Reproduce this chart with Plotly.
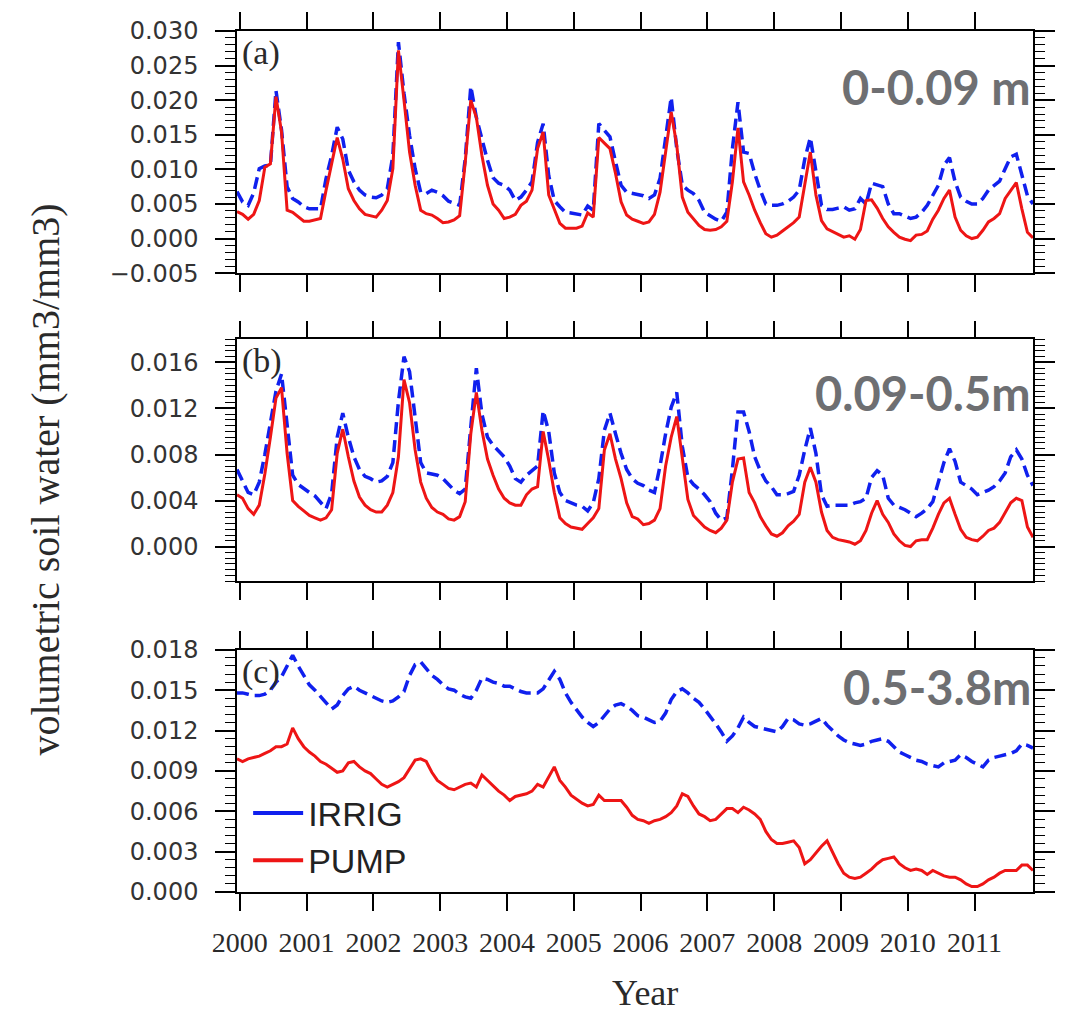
import numpy as np
import plotly.graph_objects as go

# ---------------- data ----------------
years = list(range(2000, 2012))
year_labels = [str(y) for y in years]
n_months = 144
months = np.arange(n_months)
time = 2000 + (months - 0.5) / 12.0

irrig_a = [
    0.0068, 0.0053, 0.0048, 0.0066, 0.0101, 0.0105, 0.0106, 0.0214, 0.0157, 0.0075, 0.0058, 0.0053,
    0.0046, 0.0043, 0.0043, 0.0043, 0.0087, 0.0120, 0.0161, 0.0144, 0.0099, 0.0082, 0.0070, 0.0063,
    0.0060, 0.0059, 0.0063, 0.0072, 0.0120, 0.0284, 0.0210, 0.0149, 0.0101, 0.0067, 0.0065, 0.0070,
    0.0067, 0.0062, 0.0054, 0.0051, 0.0048, 0.0115, 0.0220, 0.0175, 0.0144, 0.0113, 0.0088, 0.0080,
    0.0077, 0.0070, 0.0055, 0.0060, 0.0070, 0.0082, 0.0139, 0.0166, 0.0091, 0.0055, 0.0046, 0.0038,
    0.0037, 0.0036, 0.0034, 0.0047, 0.0041, 0.0166, 0.0156, 0.0147, 0.0111, 0.0077, 0.0067, 0.0065,
    0.0063, 0.0062, 0.0058, 0.0063, 0.0087, 0.0149, 0.0204, 0.0130, 0.0077, 0.0070, 0.0065, 0.0055,
    0.0038, 0.0033, 0.0028, 0.0025, 0.0038, 0.0130, 0.0197, 0.0125, 0.0123, 0.0094, 0.0070, 0.0050,
    0.0048, 0.0048, 0.0050, 0.0054, 0.0060, 0.0070, 0.0115, 0.0146, 0.0096, 0.0048, 0.0042, 0.0042,
    0.0044, 0.0046, 0.0041, 0.0043, 0.0058, 0.0050, 0.0080, 0.0077, 0.0075, 0.0050, 0.0036, 0.0036,
    0.0032, 0.0029, 0.0031, 0.0038, 0.0048, 0.0063, 0.0077, 0.0106, 0.0117, 0.0082, 0.0060, 0.0054,
    0.0050, 0.0050, 0.0058, 0.0070, 0.0076, 0.0083, 0.0101, 0.0118, 0.0122, 0.0091, 0.0062, 0.0050,
]
pump_a = [
    0.0039, 0.0035, 0.0028, 0.0035, 0.0055, 0.0103, 0.0108, 0.0205, 0.0154, 0.0041, 0.0038, 0.0031,
    0.0025, 0.0025, 0.0027, 0.0029, 0.0070, 0.0110, 0.0146, 0.0115, 0.0072, 0.0055, 0.0043, 0.0035,
    0.0033, 0.0031, 0.0041, 0.0055, 0.0101, 0.0272, 0.0200, 0.0125, 0.0077, 0.0041, 0.0036, 0.0034,
    0.0029, 0.0023, 0.0024, 0.0027, 0.0033, 0.0110, 0.0200, 0.0175, 0.0120, 0.0077, 0.0050, 0.0041,
    0.0029, 0.0031, 0.0035, 0.0048, 0.0054, 0.0070, 0.0130, 0.0154, 0.0063, 0.0041, 0.0022, 0.0015,
    0.0015, 0.0015, 0.0018, 0.0037, 0.0031, 0.0146, 0.0138, 0.0130, 0.0094, 0.0053, 0.0034, 0.0028,
    0.0025, 0.0022, 0.0024, 0.0035, 0.0067, 0.0127, 0.0183, 0.0135, 0.0060, 0.0038, 0.0028, 0.0019,
    0.0013, 0.0012, 0.0013, 0.0017, 0.0025, 0.0082, 0.0160, 0.0082, 0.0063, 0.0041, 0.0023, 0.0007,
    0.0002, 0.0005, 0.0011, 0.0017, 0.0023, 0.0031, 0.0077, 0.0125, 0.0063, 0.0026, 0.0014, 0.0010,
    0.0006, 0.0002, 0.0004, -0.0001, 0.0013, 0.0055, 0.0056, 0.0044, 0.0029, 0.0017, 0.0009, 0.0002,
    -0.0001, -0.0003, 0.0005, 0.0006, 0.0011, 0.0028, 0.0041, 0.0058, 0.0070, 0.0031, 0.0012, 0.0004,
    0.0000, 0.0002, 0.0012, 0.0024, 0.0029, 0.0036, 0.0058, 0.0070, 0.0081, 0.0043, 0.0009, 0.0001,
]
irrig_b = [
    0.0067, 0.0057, 0.0047, 0.0045, 0.0056, 0.0080, 0.0107, 0.0135, 0.0150, 0.0107, 0.0062, 0.0054,
    0.0050, 0.0047, 0.0044, 0.0039, 0.0033, 0.0046, 0.0095, 0.0116, 0.0095, 0.0078, 0.0067, 0.0061,
    0.0059, 0.0056, 0.0057, 0.0061, 0.0073, 0.0126, 0.0165, 0.0152, 0.0112, 0.0073, 0.0064, 0.0063,
    0.0062, 0.0059, 0.0054, 0.0049, 0.0046, 0.0050, 0.0104, 0.0155, 0.0115, 0.0095, 0.0088, 0.0083,
    0.0078, 0.0070, 0.0059, 0.0056, 0.0062, 0.0066, 0.0070, 0.0118, 0.0100, 0.0064, 0.0047, 0.0040,
    0.0038, 0.0036, 0.0035, 0.0031, 0.0038, 0.0059, 0.0101, 0.0116, 0.0098, 0.0081, 0.0067, 0.0059,
    0.0055, 0.0053, 0.0049, 0.0047, 0.0070, 0.0098, 0.0121, 0.0134, 0.0087, 0.0060, 0.0054, 0.0050,
    0.0045, 0.0039, 0.0029, 0.0023, 0.0025, 0.0067, 0.0117, 0.0117, 0.0100, 0.0078, 0.0066, 0.0057,
    0.0052, 0.0045, 0.0045, 0.0046, 0.0048, 0.0062, 0.0084, 0.0103, 0.0081, 0.0045, 0.0035, 0.0036,
    0.0036, 0.0036, 0.0036, 0.0038, 0.0039, 0.0042, 0.0060, 0.0066, 0.0062, 0.0042, 0.0036, 0.0034,
    0.0032, 0.0029, 0.0026, 0.0029, 0.0033, 0.0039, 0.0056, 0.0073, 0.0085, 0.0074, 0.0056, 0.0053,
    0.0050, 0.0045, 0.0047, 0.0049, 0.0052, 0.0057, 0.0064, 0.0078, 0.0084, 0.0076, 0.0062, 0.0053,
]
pump_b = [
    0.0045, 0.0042, 0.0033, 0.0028, 0.0036, 0.0063, 0.0095, 0.0129, 0.0138, 0.0081, 0.0040, 0.0035,
    0.0031, 0.0027, 0.0025, 0.0023, 0.0025, 0.0032, 0.0081, 0.0102, 0.0078, 0.0057, 0.0043, 0.0036,
    0.0032, 0.0030, 0.0030, 0.0036, 0.0047, 0.0078, 0.0145, 0.0125, 0.0084, 0.0056, 0.0042, 0.0034,
    0.0030, 0.0028, 0.0024, 0.0023, 0.0026, 0.0039, 0.0098, 0.0134, 0.0101, 0.0076, 0.0062, 0.0050,
    0.0042, 0.0038, 0.0036, 0.0036, 0.0045, 0.0050, 0.0052, 0.0100, 0.0075, 0.0047, 0.0025, 0.0020,
    0.0017, 0.0016, 0.0015, 0.0020, 0.0025, 0.0033, 0.0084, 0.0098, 0.0076, 0.0059, 0.0038, 0.0026,
    0.0024, 0.0019, 0.0020, 0.0023, 0.0033, 0.0070, 0.0095, 0.0113, 0.0076, 0.0041, 0.0027, 0.0022,
    0.0017, 0.0014, 0.0012, 0.0016, 0.0023, 0.0056, 0.0076, 0.0077, 0.0047, 0.0038, 0.0026, 0.0018,
    0.0011, 0.0009, 0.0012, 0.0018, 0.0022, 0.0028, 0.0056, 0.0069, 0.0056, 0.0030, 0.0014, 0.0008,
    0.0006, 0.0005, 0.0004, 0.0002, 0.0005, 0.0014, 0.0029, 0.0040, 0.0028, 0.0021, 0.0011, 0.0005,
    0.0001, 0.0000, 0.0005, 0.0006, 0.0006, 0.0016, 0.0028, 0.0038, 0.0042, 0.0028, 0.0015, 0.0008,
    0.0006, 0.0005, 0.0009, 0.0014, 0.0016, 0.0021, 0.0030, 0.0038, 0.0042, 0.0040, 0.0017, 0.0008,
]
irrig_c = [
    0.0148, 0.0148, 0.0147, 0.0146, 0.0146, 0.0147, 0.0150, 0.0156, 0.0160, 0.0168, 0.0176, 0.0168,
    0.0161, 0.0154, 0.0150, 0.0145, 0.0140, 0.0136, 0.0139, 0.0146, 0.0151, 0.0153, 0.0150, 0.0148,
    0.0146, 0.0144, 0.0142, 0.0141, 0.0142, 0.0145, 0.0149, 0.0161, 0.0169, 0.0171, 0.0166, 0.0161,
    0.0158, 0.0154, 0.0151, 0.0150, 0.0147, 0.0145, 0.0144, 0.0150, 0.0159, 0.0158, 0.0156, 0.0155,
    0.0153, 0.0153, 0.0151, 0.0149, 0.0148, 0.0148, 0.0148, 0.0151, 0.0158, 0.0164, 0.0158, 0.0148,
    0.0141, 0.0135, 0.0130, 0.0126, 0.0123, 0.0126, 0.0131, 0.0136, 0.0139, 0.0140, 0.0138, 0.0135,
    0.0131, 0.0130, 0.0128, 0.0126, 0.0127, 0.0133, 0.0143, 0.0149, 0.0151, 0.0148, 0.0144, 0.0141,
    0.0136, 0.0131, 0.0125, 0.0119, 0.0112, 0.0116, 0.0122, 0.0130, 0.0126, 0.0123, 0.0122, 0.0121,
    0.0120, 0.0119, 0.0123, 0.0129, 0.0128, 0.0125, 0.0124, 0.0125, 0.0127, 0.0129, 0.0124, 0.0120,
    0.0116, 0.0113, 0.0111, 0.0110, 0.0109, 0.0110, 0.0112, 0.0113, 0.0114, 0.0112, 0.0108, 0.0104,
    0.0102, 0.0100, 0.0098, 0.0097, 0.0095, 0.0094, 0.0093, 0.0096, 0.0097, 0.0098, 0.0102, 0.0100,
    0.0097, 0.0095, 0.0093, 0.0098, 0.0100, 0.0101, 0.0102, 0.0103, 0.0105, 0.0110, 0.0109, 0.0107,
]
pump_c = [
    0.0099, 0.0097, 0.0099, 0.0100, 0.0101, 0.0103, 0.0105, 0.0108, 0.0108, 0.0110, 0.0122, 0.0114,
    0.0108, 0.0104, 0.0101, 0.0097, 0.0095, 0.0092, 0.0089, 0.0090, 0.0096, 0.0097, 0.0093, 0.0090,
    0.0088, 0.0084, 0.0080, 0.0078, 0.0080, 0.0082, 0.0085, 0.0092, 0.0098, 0.0099, 0.0097, 0.0089,
    0.0083, 0.0080, 0.0077, 0.0076, 0.0078, 0.0080, 0.0081, 0.0078, 0.0087, 0.0083, 0.0079, 0.0075,
    0.0072, 0.0068, 0.0071, 0.0072, 0.0073, 0.0075, 0.0080, 0.0078, 0.0085, 0.0093, 0.0083, 0.0078,
    0.0072, 0.0069, 0.0066, 0.0064, 0.0065, 0.0072, 0.0068, 0.0068, 0.0068, 0.0068, 0.0063, 0.0057,
    0.0054, 0.0053, 0.0051, 0.0053, 0.0054, 0.0056, 0.0059, 0.0064, 0.0073, 0.0071, 0.0064, 0.0058,
    0.0056, 0.0053, 0.0054, 0.0058, 0.0062, 0.0062, 0.0059, 0.0063, 0.0061, 0.0058, 0.0054, 0.0045,
    0.0039, 0.0036, 0.0036, 0.0037, 0.0038, 0.0033, 0.0021, 0.0024, 0.0029, 0.0034, 0.0038, 0.0029,
    0.0021, 0.0014, 0.0011, 0.0010, 0.0011, 0.0014, 0.0017, 0.0021, 0.0024, 0.0025, 0.0026, 0.0021,
    0.0018, 0.0016, 0.0017, 0.0016, 0.0013, 0.0016, 0.0014, 0.0012, 0.0011, 0.0011, 0.0009, 0.0006,
    0.0004, 0.0004, 0.0006, 0.0009, 0.0011, 0.0014, 0.0016, 0.0016, 0.0016, 0.0020, 0.0020, 0.0016,
]

panel_letters = ["(a)", "(b)", "(c)"]
depth_labels = ["0-0.09 m", "0.09-0.5m", "0.5-3.8m"]
series_names = ["IRRIG", "PUMP"]

# ---------------- style ----------------
BLUE = "#1020ee"
RED = "#ee1515"
GRAY = "#6e6f72"
INK = "#2a2a2a"

panels = [
    dict(irrig=irrig_a, pump=pump_a, rng=[-0.005, 0.030], dtick=0.005, minor=0.001,
         dom=[0.71875, 1.0], lab_y=0.77),
    dict(irrig=irrig_b, pump=pump_b, rng=[-0.003, 0.018], dtick=0.004, minor=0.0005,
         dom=[0.3611, 0.6418], lab_y=0.78),
    dict(irrig=irrig_c, pump=pump_c, rng=[0.0, 0.018], dtick=0.003, minor=0.0006,
         dom=[0.0, 0.28125], lab_y=0.845),
]

fig = go.Figure()
layout_axes = {}
annotations = []

for i, p in enumerate(panels):
    k = "" if i == 0 else str(i + 1)
    xa, ya = "x" + k, "y" + k
    fig.add_trace(go.Scatter(x=time, y=p["irrig"], mode="lines", xaxis=xa, yaxis=ya,
                             line=dict(color=BLUE, width=3.5, dash="12px,6px"),
                             showlegend=False, name=series_names[0]))
    fig.add_trace(go.Scatter(x=time, y=p["pump"], mode="lines", xaxis=xa, yaxis=ya,
                             line=dict(color=RED, width=3),
                             showlegend=False, name=series_names[1]))
    layout_axes["xaxis" + k] = dict(
        domain=[0, 1], anchor=ya, range=[time[0], time[-1]],
        tickmode="array", tickvals=years, ticktext=year_labels,
        showticklabels=(i == 2), ticks="outside", ticklen=17, tickwidth=1.5,
        tickcolor="black", showline=True, linecolor="black", linewidth=1.5,
        mirror="ticks", showgrid=False, zeroline=False,
        tickfont=dict(family="Liberation Serif", size=28, color=INK),
        ticklabelstandoff=8,
    )
    layout_axes["yaxis" + k] = dict(
        domain=p["dom"], anchor=xa, range=p["rng"],
        tickmode="linear", tick0=0, dtick=p["dtick"], tickformat=".3f",
        ticks="outside", ticklen=20, tickwidth=1.5, tickcolor="black",
        minor=dict(ticks="outside", ticklen=10, tickwidth=1, tickcolor="black",
                   dtick=p["minor"], tick0=0, showgrid=False),
        showline=True, linecolor="black", linewidth=1.5, mirror="ticks",
        showgrid=False, zeroline=False,
        tickfont=dict(family="DejaVu Sans", size=24, color="#333333"),
        ticklabelstandoff=12,
    )
    annotations.append(dict(
        text=panel_letters[i], xref=xa + " domain", yref=ya + " domain",
        x=0.004, y=0.91, xanchor="left", yanchor="middle", showarrow=False,
        font=dict(family="Liberation Serif", size=34, color=INK)))
    annotations.append(dict(
        text="<b>" + depth_labels[i] + "</b>", xref=xa + " domain", yref=ya + " domain",
        x=1.0, y=p["lab_y"], xanchor="right", yanchor="middle",
        showarrow=False, font=dict(family="Lato", size=47, color=GRAY)))

# legend-only entries (solid samples as in the original legend)
fig.add_trace(go.Scatter(x=[None], y=[None], mode="lines", xaxis="x3", yaxis="y3",
                         line=dict(color=BLUE, width=4), name=series_names[0]))
fig.add_trace(go.Scatter(x=[None], y=[None], mode="lines", xaxis="x3", yaxis="y3",
                         line=dict(color=RED, width=4), name=series_names[1]))

annotations.append(dict(
    text="volumetric soil water (mm3/mm3)", xref="paper", yref="paper",
    x=-0.240, y=0.479, xanchor="center", yanchor="middle", textangle=-90,
    showarrow=False, font=dict(family="Liberation Serif", size=40, color=INK)))
annotations.append(dict(
    text="Year", xref="paper", yref="paper", x=0.512, y=-0.117,
    xanchor="center", yanchor="middle", showarrow=False,
    font=dict(family="Liberation Serif", size=36, color=INK)))

fig.update_layout(
    width=1067, height=1018,
    margin=dict(l=237, r=18, t=28, b=126),
    paper_bgcolor="white", plot_bgcolor="white",
    showlegend=True,
    legend=dict(x=0.014, y=0.125, xanchor="left", yanchor="top",
                bgcolor="rgba(0,0,0,0)", itemwidth=50,
                font=dict(family="Liberation Sans", size=34, color="#222222")),
    annotations=annotations,
    **layout_axes,
)

fig.write_html("out.html")
